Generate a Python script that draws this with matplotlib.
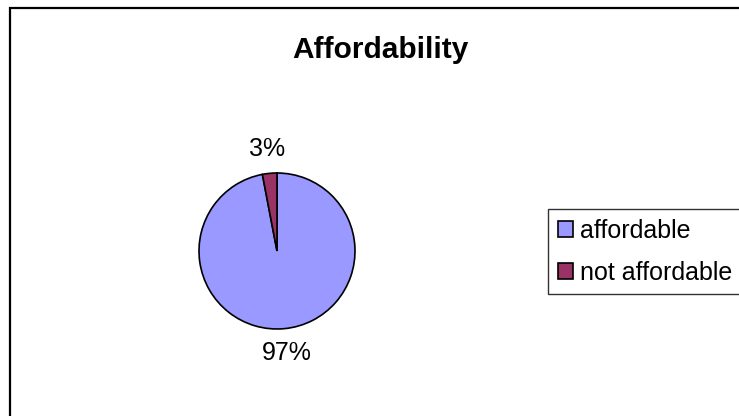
import matplotlib
matplotlib.use("Agg")
import matplotlib.pyplot as plt
from matplotlib.patches import Rectangle, Patch

plt.rcParams['font.family'] = ['Liberation Sans', 'DejaVu Sans']

# datos del grafico
categories = ['affordable', 'not affordable']
values = [97, 3]
colors = ['#9999FF', '#993366']

W, H = 739, 416
fig = plt.figure(figsize=(W / 100, H / 100), dpi=100)

# marco exterior del grafico (recortado a la derecha y abajo)
fig.patches.append(Rectangle((10 / W, -0.1), 1.2, 1 - 8 / H + 0.1,
                             transform=fig.transFigure, fill=False,
                             edgecolor='black', linewidth=1.6))

fig.text(380 / W, 1 - 50 / H, 'Affordability', ha='center', va='center',
         fontsize=21.5, fontweight='bold')

# pie: centro (277, 251), radio 78 px
r = 78
ax = fig.add_axes([(277 - r) / W, 1 - (251 + r) / H, 2 * r / W, 2 * r / H])
wedges, texts, autotexts = ax.pie(values, colors=colors, startangle=90,
                                  counterclock=False, autopct='%1.0f%%',
                                  pctdistance=1.31,
                                  wedgeprops=dict(edgecolor='black', linewidth=1.2),
                                  textprops=dict(fontsize=18))
ax.set_xlim(-1, 1)
ax.set_ylim(-1, 1)
ax.set_aspect('equal')

handles = [Patch(facecolor=c, edgecolor='black', linewidth=1.2) for c in colors]
leg = fig.legend(handles, categories, loc='upper left',
                 bbox_to_anchor=(548 / W, 1 - 209 / H), fontsize=18,
                 frameon=True, fancybox=False, edgecolor='black',
                 handlelength=0.6, handleheight=0.6, handletextpad=0.3,
                 labelspacing=0.72, borderpad=0.38, borderaxespad=0)
leg.get_frame().set_linewidth(1)

fig.savefig('out.png', dpi=100)
